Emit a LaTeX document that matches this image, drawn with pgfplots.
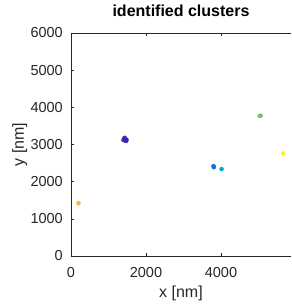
\documentclass[border=0pt]{standalone}
\usepackage{fontspec}
\setmainfont{Liberation Sans}
\usepackage{pgfplots}
\pgfplotsset{compat=1.18}
\definecolor{axgray}{rgb}{0.15,0.15,0.15}
\definecolor{c1}{rgb}{0.2422,0.1504,0.6603}
\definecolor{c2}{rgb}{0.05,0.43,0.87}
\definecolor{c3}{rgb}{0.02,0.65,0.79}
\definecolor{c4}{rgb}{0.47,0.76,0.43}
\definecolor{c5}{rgb}{0.97,0.72,0.24}
\definecolor{c6}{rgb}{0.98,0.96,0.08}
\begin{document}
\begin{tikzpicture}
\begin{axis}[
  width=220pt, height=223pt, scale only axis,
  xmin=0, xmax=5867, ymin=0, ymax=6000,
  xtick={0,2000,4000}, ytick={0,1000,...,6000},
  axis x line*=box, axis y line*=left,
  axis line style={axgray, line width=0.6pt},
  tick style={axgray, line width=0.6pt},
  tick align=inside, major tick length=3pt,
  xtick pos=both,
  /pgf/number format/assume math mode=true,
  /pgf/number format/1000 sep={},
  ticklabel style={font=\fontsize{14.5}{17}\selectfont, text=axgray, inner sep=0pt},
  xticklabel style={anchor=base, yshift=-21pt},
  yticklabel style={anchor=east, xshift=-8pt},
  title={\textbf{identified clusters}},
  title style={font=\fontsize{16}{19}\selectfont, at={(axis description cs:0.5,1)}, anchor=base, yshift=10pt, inner sep=0pt},
  xlabel={x [nm]},
  xlabel style={font=\fontsize{16}{19}\selectfont, text=axgray, at={(axis description cs:0.5,0)}, anchor=base, yshift=-41pt, inner sep=0pt},
  ylabel={y [nm]},
  every axis y label/.style={font=\fontsize{16}{19}\selectfont, text=axgray, at={(axis description cs:0,0.5)}, rotate=90, anchor=base, yshift=47pt, inner sep=0pt},
]
\addplot[only marks, mark=*, mark size=2pt, color=c1] coordinates {
  (1400,3120) (1430,3180) (1450,3110) (1480,3130) (1420,3150) (1470,3095) (1440,3140)
};
\addplot[only marks, mark=*, mark size=2pt, color=c2] coordinates {(3800,2420) (3810,2390)};
\addplot[only marks, mark=*, mark size=2pt, color=c3] coordinates {(4015,2340)};
\addplot[only marks, mark=*, mark size=2pt, color=c4] coordinates {(5030,3770) (5060,3775)};
\addplot[only marks, mark=*, mark size=2pt, color=c6] coordinates {(5655,2760)};
\addplot[only marks, mark=*, mark size=2pt, color=c5] coordinates {(200,1420)};
\coordinate (sw) at (rel axis cs:0,0);
\coordinate (ne) at (rel axis cs:1,1);
\end{axis}
\pgfresetboundingbox
\useasboundingbox ([shift={(-71pt,-48pt)}]sw) rectangle ([yshift=33pt]ne);
\end{tikzpicture}
\end{document}
